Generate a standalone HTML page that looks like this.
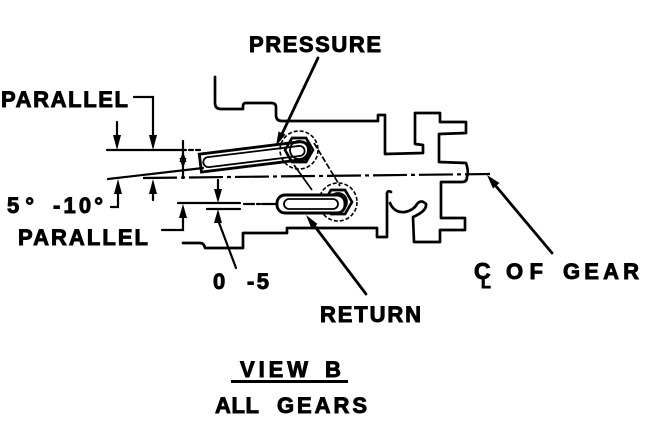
<!DOCTYPE html>
<html>
<head>
<meta charset="utf-8">
<style>
  html, body { margin:0; padding:0; background:#fff; }
  body { width:655px; height:433px; overflow:hidden; }
  svg { display:block; }
  text { font-family:"Liberation Sans", "DejaVu Sans", sans-serif; font-weight:bold; fill:#000; stroke:#000; stroke-width:0.9; }
</style>
</head>
<body>
<svg width="655" height="433" viewBox="0 0 655 433" xmlns="http://www.w3.org/2000/svg">
  <rect width="655" height="433" fill="#fff"/>

  <!-- ===== Labels ===== -->
  <text x="249" y="52" font-size="22" textLength="132" lengthAdjust="spacing">PRESSURE</text>
  <text x="1" y="107" font-size="22" textLength="127" lengthAdjust="spacing">PARALLEL</text>
  <text x="7" y="213" font-size="22" textLength="27" lengthAdjust="spacing">5°</text>
  <text x="53" y="213" font-size="22" textLength="50" lengthAdjust="spacing">-10°</text>
  <text x="18" y="245" font-size="22" textLength="130" lengthAdjust="spacing">PARALLEL</text>
  <text x="213" y="289" font-size="22">0</text>
  <text x="247" y="289" font-size="22" textLength="22" lengthAdjust="spacing">-5</text>
  <text x="320" y="322" font-size="22" textLength="101" lengthAdjust="spacing">RETURN</text>
  <text x="474" y="279" font-size="23">C</text>
  <text x="481" y="288" font-size="16">L</text>
  <text x="506" y="279" font-size="22" textLength="37" lengthAdjust="spacing">OF</text>
  <text x="563" y="279" font-size="22" textLength="76" lengthAdjust="spacing">GEAR</text>
  <text x="240" y="377" font-size="22" textLength="68" lengthAdjust="spacing">VIEW</text>
  <text x="325" y="377" font-size="22">B</text>
  <line x1="231" y1="381.5" x2="348" y2="381.5" stroke="#000" stroke-width="3"/>
  <text x="215" y="413" font-size="22" textLength="44" lengthAdjust="spacing">ALL</text>
  <text x="277" y="413" font-size="22" textLength="90" lengthAdjust="spacing">GEARS</text>

  <!-- ===== Housing outline ===== -->
  <g fill="none" stroke="#000" stroke-width="2.7" stroke-linejoin="round" stroke-linecap="round">
    <path d="M215,77 L215,103 Q215,109 221,109 L243,109 L243,106 Q243,103 246,103 L271,103 Q276,103 276,107 L276,115 Q276,121 282,121 L378,121 L378,115 L385,115 L385,154 L423,153 L423,145 L415,144 L415,113 L440,113 L440,122 L466,122 L466,133 L439,134 L439,162 L466,163 Q469,172 467,177 Q467,182 462,182 L441,182 L441,218 L465,218 L465,230 L440,230 L440,242 L414,242 L413,217 Q427,211 426,204 Q421,199 417,204 Q414,210 405,212 Q394,213 390,203"/>
    <path d="M183,243 L200,243 Q204,243 205,248 L243,248 L243,233 L287,233 L287,228 L377,228 L377,237 L387,237 L387,193 Q388,190 391,192"/>
  </g>

  <!-- ===== Center line of gear ===== -->
  <line x1="143" y1="178" x2="490" y2="174" stroke="#000" stroke-width="2.2" stroke-dasharray="34 4 4 4"/>

  <!-- ===== Dimension lines ===== -->
  <g stroke="#000" stroke-width="2.2" fill="none" stroke-linecap="round">
    <line x1="107" y1="150" x2="186" y2="150"/>
    <line x1="189" y1="150" x2="193" y2="150"/>
    <line x1="196" y1="150" x2="200" y2="150"/>
    <line x1="108" y1="179" x2="203" y2="168"/>
    <line x1="178" y1="203" x2="240" y2="203"/>
    <line x1="207" y1="209" x2="240" y2="209"/>
    <line x1="244" y1="204" x2="262" y2="204" stroke-dasharray="10 3 3 3"/>
    <line x1="262" y1="204" x2="278" y2="204"/>
    <path d="M134,97 L153,97 L153,138"/>
    <line x1="117" y1="122" x2="117" y2="138"/>
    <line x1="183" y1="141" x2="183" y2="178"/>
    <path d="M118,190 L118,207 L111,207"/>
    <line x1="153" y1="190" x2="153" y2="200"/>
    <line x1="218" y1="180" x2="218" y2="192"/>
    <line x1="218" y1="220" x2="236" y2="268"/>
    <path d="M183,214 L183,230 L162,230"/>
  </g>
  <g fill="#000">
    <polygon points="117,150 113,135 121,135"/>
    <polygon points="153,150 149,135 157,135"/>
    <polygon points="183,151 179.5,162 186.5,162"/>
    <polygon points="183,169 179.5,158 186.5,158"/>
    <polygon points="118,179 114,194 122,194"/>
    <polygon points="153,179 149,194 157,194"/>
    <polygon points="218,203 214,189 222,189"/>
    <polygon points="218,209 214,223 222,223"/>
    <polygon points="183,204 179,218 187,218"/>
  </g>

  <!-- ===== Upper (pressure) tube ===== -->
  <g transform="rotate(-7 250 157)" fill="none" stroke="#000">
    <path d="M200,148 L301,148 A9,9 0 0 1 301,166 L200,166 Z" stroke-width="2.9"/>
    <path d="M208,152 L300,152 A5,5 0 0 1 300,162 L208,162 A5,5 0 0 1 208,152 Z" stroke-width="1.8"/>
  </g>

  <!-- ===== Nuts ===== -->
  <g fill="none" stroke="#000">
    <circle cx="299" cy="150" r="19" stroke-width="1.6" stroke-dasharray="4 2"/>
    <polygon points="313,150 306,162 292,162 285,150 292,138 306,138" stroke-width="2.7"/>
    <circle cx="299" cy="150" r="9" stroke-width="1.8"/>
    <circle cx="338" cy="202" r="19" stroke-width="1.6" stroke-dasharray="4 2"/>
    <polygon points="352,202 345,214 331,214 324,202 331,190 345,190" stroke-width="2.7"/>
    <circle cx="338" cy="202" r="9" stroke-width="1.8"/>
    <rect x="277" y="195" width="68" height="18" rx="8" stroke-width="2.9" fill="#fff"/>
    <rect x="284" y="199" width="54" height="10" rx="5" stroke-width="1.8"/>
    <line x1="314" y1="143" x2="340" y2="186" stroke-width="1.7" stroke-dasharray="6 2"/>
    <line x1="294" y1="165" x2="312" y2="190" stroke-width="1.7"/>
  </g>

  <!-- ===== Leaders ===== -->
  <g stroke="#000" stroke-width="2.8" stroke-linecap="round">
    <line x1="318" y1="58" x2="281" y2="136"/>
    <line x1="366" y1="294" x2="313" y2="224"/>
    <line x1="552" y1="253" x2="495" y2="185"/>
  </g>
  <g fill="#000">
    <polygon points="276,146 285.5,134.5 278.5,131.5"/>
    <polygon points="306,215 317.5,224 311.5,228.5"/>
    <polygon points="487,175 499.5,183 493,188.5"/>
  </g>
</svg>
</body>
</html>
